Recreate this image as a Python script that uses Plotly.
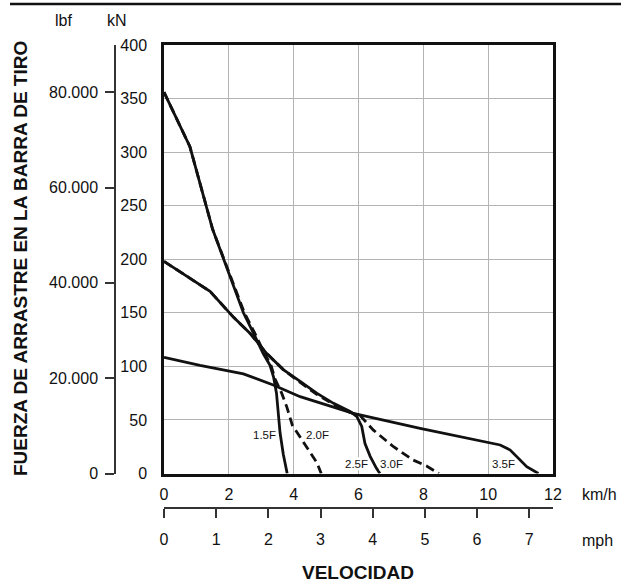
import plotly.graph_objects as go

# ---------------- data (km/h, kN) ----------------
KMH_PER_MPH = 1.609344
LBF_PER_KN = 224.809

kmh_15 = [0, 0.8, 1.5, 2.1, 2.45, 2.76, 3.06, 3.27, 3.38, 3.47, 3.52, 3.58, 3.68, 3.8]
kn_15 = [356, 305, 228, 178, 150, 131, 112, 101, 90, 75, 55, 38, 18, 0]

kmh_20 = [0, 0.8, 1.5, 2.12, 2.48, 2.8, 3.1, 3.3, 3.43, 3.63, 3.79, 3.96, 4.2, 4.41, 4.72, 4.85]
kn_20 = [356, 305, 228, 178, 150, 131, 112, 101, 88, 75, 62, 45, 34, 25, 10, 0]

kmh_25 = [0, 1.42, 2.14, 2.65, 3.17, 3.68, 4.2, 4.71, 5.23, 5.74, 5.95, 6.1, 6.2, 6.36, 6.55, 6.66]
kn_25 = [198, 170, 146, 131, 112, 97, 86, 75, 65.5, 58, 53, 44, 28, 16, 5, 0]

kmh_30 = [0, 1.42, 2.14, 2.65, 3.17, 3.68, 4.2, 4.71, 5.23, 5.74, 6.05, 6.46, 7.08, 7.69, 8.1, 8.48]
kn_30 = [198, 170, 146, 131, 112, 97, 85, 74, 64.5, 57, 54, 40.5, 25, 12.5, 7, 0]

kmh_35 = [0, 1.11, 2.45, 3.37, 4.2, 5.23, 5.84, 7.9, 10.37, 10.68, 10.99, 11.19, 11.55]
kn_35 = [108.5, 101, 93, 82.6, 71.7, 62.4, 56.2, 42.2, 26.6, 21.9, 12.6, 6.3, 0]

series_names = ["1.5F", "2.0F", "2.5F", "3.0F", "3.5F"]

kmh_ticks = [0, 2, 4, 6, 8, 10, 12]
kn_ticks = [0, 50, 100, 150, 200, 250, 300, 350, 400]
mph_ticks = [0, 1, 2, 3, 4, 5, 6, 7]
lbf_ticks = [0, 20000, 40000, 60000, 80000]
lbf_labels = ["0", "20.000", "40.000", "60.000", "80.000"]

# ---------------- figure ----------------
FONT = "Liberation Sans, Arial, Helvetica, sans-serif"
INK = "#111111"

fig = go.Figure()

series = [
    (kmh_15, kn_15, "solid"),
    (kmh_20, kn_20, "9px,5px"),
    (kmh_25, kn_25, "solid"),
    (kmh_30, kn_30, "9px,5px"),
    (kmh_35, kn_35, "solid"),
]
for (xs, ys, dash), name in zip(series, series_names):
    fig.add_trace(go.Scatter(x=xs, y=ys, mode="lines", name=name,
                             line=dict(color=INK, width=2.8, dash=dash),
                             showlegend=False, hoverinfo="skip"))

# helper traces so the secondary axes (mph, lbf) are drawn
fig.add_trace(go.Scatter(x=mph_ticks, y=[None] * len(mph_ticks), xaxis="x2", yaxis="y",
                         mode="lines", showlegend=False, hoverinfo="skip"))
fig.add_trace(go.Scatter(x=[None] * len(lbf_ticks), y=lbf_ticks, xaxis="x", yaxis="y2",
                         mode="lines", showlegend=False, hoverinfo="skip"))

W, H = 621, 583
L, T = 115, 45
R = W - 553
B = H - 508
plot_left, plot_bottom = 164, 473.5
pw = W - L - R
ph = H - T - B
xdom0 = (plot_left - L) / pw
ydom0 = (H - B - plot_bottom) / ph


def px(xp):
    return (xp - L) / pw


def py(yp):
    return (H - B - yp) / ph


TICK = 16
fig.update_layout(
    width=W, height=H,
    margin=dict(l=L, r=R, t=T, b=B, pad=0),
    paper_bgcolor="white", plot_bgcolor="white",
    font=dict(family=FONT, size=TICK, color=INK),
    xaxis=dict(domain=[xdom0, 1], range=[0, 12], tickvals=kmh_ticks,
               showgrid=True, gridcolor="#b4b4b4", gridwidth=1.2,
               showline=True, linecolor=INK, linewidth=2.5, mirror=True,
               ticks="", ticklabelstandoff=5, zeroline=False,
               tickfont=dict(size=TICK)),
    yaxis=dict(domain=[ydom0, 1], range=[0, 400], tickvals=kn_ticks,
               showgrid=True, gridcolor="#b4b4b4", gridwidth=1.2,
               showline=True, linecolor=INK, linewidth=2.5, mirror=True,
               ticks="", ticklabelstandoff=11, zeroline=False,
               tickfont=dict(size=TICK)),
    xaxis2=dict(overlaying="x", anchor="free", position=0, side="bottom",
                range=[0, 12 / KMH_PER_MPH], tickvals=mph_ticks,
                showgrid=False, zeroline=False,
                showline=True, linecolor="#333333", linewidth=1.5,
                ticks="outside", ticklen=9, tickwidth=1.5, tickcolor="#333333",
                ticklabelstandoff=8, tickfont=dict(size=TICK)),
    yaxis2=dict(overlaying="y", anchor="free", position=0, side="left",
                range=[0, 400 * LBF_PER_KN], tickvals=lbf_ticks, ticktext=lbf_labels,
                showgrid=False, zeroline=False,
                showline=True, linecolor="#333333", linewidth=1.5,
                ticks="outside", ticklen=9, tickwidth=1.5, tickcolor="#333333",
                ticklabelstandoff=4, tickfont=dict(size=TICK)),
)

# curve labels
label_pos = [(3.09, 35.6), (4.72, 35.6), (5.94, 8.9), (7.03, 8.9), (10.47, 8.9)]
for name, (lx, ly) in zip(series_names, label_pos):
    fig.add_annotation(x=lx, y=ly, xref="x", yref="y", text=name, showarrow=False,
                       font=dict(size=11.5, color=INK), bgcolor="white", borderpad=0)

# axis/unit texts (window pixel positions)
texts = [
    ("lbf", 63, 20, 16, 0),
    ("kN", 117, 20, 16, 0),
    ("km/h", 599, 494, 16, 0),
    ("mph", 597, 540, 16, 0),
    ("<b>VELOCIDAD</b>", 358, 572, 19, 0),
    ("<b>FUERZA DE ARRASTRE EN LA BARRA DE TIRO</b>", 20, 259, 19, -90),
]
for t, x0, y0, sz, ang in texts:
    fig.add_annotation(x=px(x0), y=py(y0), xref="paper", yref="paper", text=t,
                       showarrow=False, textangle=ang, xanchor="center", yanchor="middle",
                       font=dict(size=sz, color=INK))

# top rule
fig.add_shape(type="line", xref="paper", yref="paper",
              x0=px(10), x1=px(621), y0=py(4), y1=py(4),
              line=dict(color=INK, width=2.5))

fig.write_html("out.html", config={"displayModeBar": False},
               post_script="document.body.style.margin='0';")
